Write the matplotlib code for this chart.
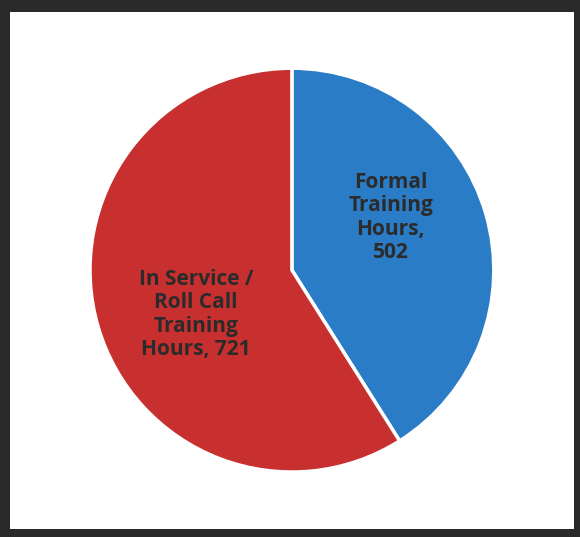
import matplotlib.pyplot as plt
from matplotlib.patches import Rectangle

categories = ['Formal\nTraining\nHours,\n502', 'In Service /\nRoll Call\nTraining\nHours, 721']
hours = [502, 721]
colors = ['#2b7cc6', '#c7302e']
label_pos = [(0.49, 0.26), (-0.475, -0.22)]

fig = plt.figure(figsize=(5.8, 5.37), dpi=100)
fig.patch.set_facecolor('#2a2a2a')
# white panel inside the dark frame
fig.patches.append(Rectangle((10 / 580, 8 / 537), 564 / 580, 517 / 537,
                             transform=fig.transFigure, facecolor='white',
                             edgecolor='none', zorder=-5))

ax = fig.add_axes([0.155, 0.121, 0.6966, 0.752])
ax.set_facecolor('none')
wedges, texts = ax.pie(hours, labels=categories, colors=colors, startangle=90,
                       counterclock=False, labeldistance=0.5,
                       wedgeprops={'edgecolor': 'white', 'linewidth': 2.5},
                       textprops={'fontsize': 15, 'fontweight': 'bold',
                                  'color': '#2b2b2b', 'family': 'Open Sans',
                                  'ha': 'center', 'va': 'center',
                                  'linespacing': 1.15})
for t, pos in zip(texts, label_pos):
    t.set_position(pos)
    t.set_horizontalalignment('center')
ax.set_xlim(-1, 1)
ax.set_ylim(-1, 1)
ax.set_aspect('equal')

fig.savefig('out.png', dpi=100, facecolor=fig.get_facecolor())
